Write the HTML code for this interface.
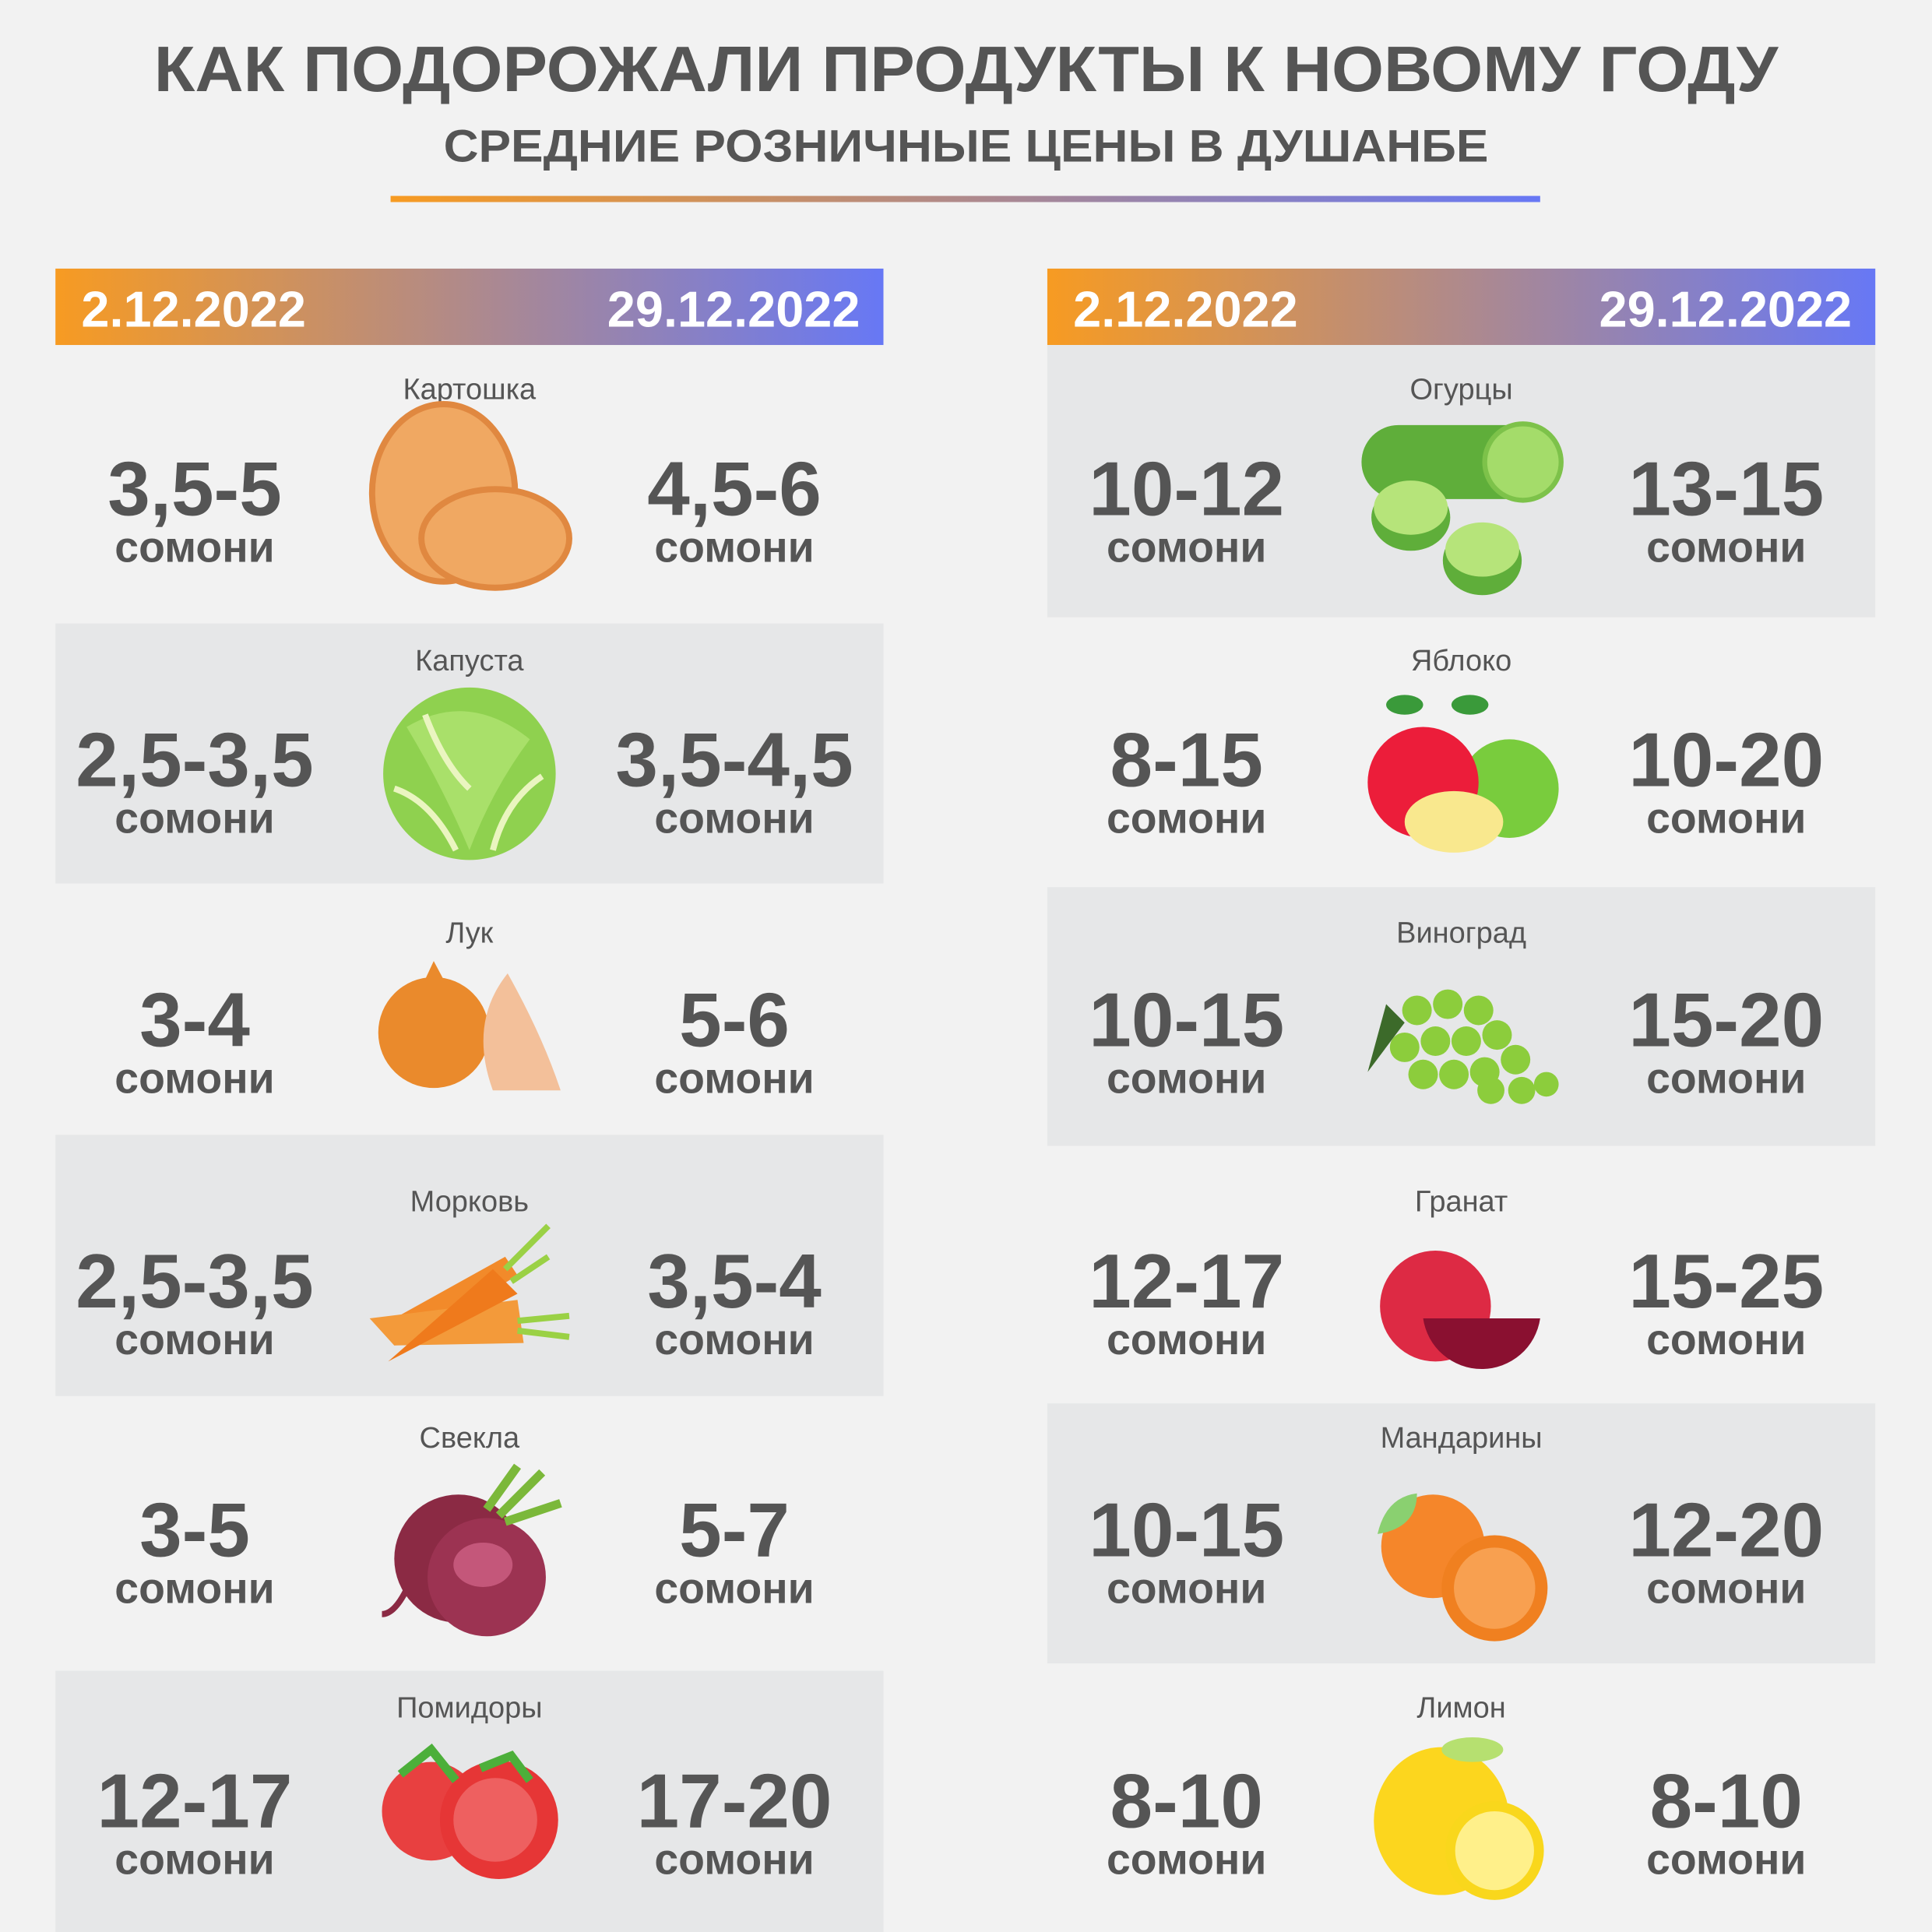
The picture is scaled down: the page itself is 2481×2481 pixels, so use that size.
<!DOCTYPE html>
<html><head><meta charset="utf-8"><style>
html,body{margin:0;padding:0;background:#f2f2f2}
svg{display:block}
text{font-family:"Liberation Sans",sans-serif;fill:#555}
.n{font-size:24px;text-anchor:middle;fill:#555}
.p{font-size:62px;font-weight:bold;text-anchor:middle;fill:#555}
.s{font-size:35px;font-weight:bold;text-anchor:middle;fill:#555}
.d{font-size:41px;font-weight:bold;fill:#fff}
</style></head><body>
<svg width="2481" height="2481" viewBox="0 0 1568 1568" xmlns="http://www.w3.org/2000/svg">
<defs>
<linearGradient id="g" x1="0" x2="1" y1="0" y2="0"><stop offset="0" stop-color="#f79b22"/><stop offset="1" stop-color="#6778f5"/></linearGradient>
</defs>
<rect width="1568" height="1568" fill="#f2f2f2"/>
<text x="784" y="74" text-anchor="middle" font-size="52" font-weight="bold" textLength="1318" lengthAdjust="spacingAndGlyphs">КАК ПОДОРОЖАЛИ ПРОДУКТЫ К НОВОМУ ГОДУ</text>
<text x="784" y="131" text-anchor="middle" font-size="37" font-weight="bold" textLength="848" lengthAdjust="spacingAndGlyphs">СРЕДНИЕ РОЗНИЧНЫЕ ЦЕНЫ В ДУШАНБЕ</text>
<rect x="317" y="159" width="933" height="5" fill="url(#g)"/>
<rect x="45" y="218" width="672" height="62" fill="url(#g)"/>
<rect x="850" y="218" width="672" height="62" fill="url(#g)"/>
<text class="d" x="66" y="265">2.12.2022</text>
<text class="d" x="698" y="265" text-anchor="end">29.12.2022</text>
<text class="d" x="871" y="265">2.12.2022</text>
<text class="d" x="1503" y="265" text-anchor="end">29.12.2022</text>
<g fill="#e6e7e8">
<rect x="45" y="506" width="672" height="211"/>
<rect x="45" y="921" width="672" height="212"/>
<rect x="45" y="1356" width="672" height="212"/>
<rect x="850" y="280" width="672" height="221"/>
<rect x="850" y="720" width="672" height="210"/>
<rect x="850" y="1139" width="672" height="211"/>
</g>
<g>
<text class="n" x="381" y="324">Картошка</text>
<text class="p" x="158" y="418">3,5-5</text><text class="s" x="158" y="456">сомони</text>
<text class="p" x="596" y="418">4,5-6</text><text class="s" x="596" y="456">сомони</text>
<text class="n" x="381" y="544">Капуста</text>
<text class="p" x="158" y="638">2,5-3,5</text><text class="s" x="158" y="676">сомони</text>
<text class="p" x="596" y="638">3,5-4,5</text><text class="s" x="596" y="676">сомони</text>
<text class="n" x="381" y="765">Лук</text>
<text class="p" x="158" y="849">3-4</text><text class="s" x="158" y="887">сомони</text>
<text class="p" x="596" y="849">5-6</text><text class="s" x="596" y="887">сомони</text>
<text class="n" x="381" y="983">Морковь</text>
<text class="p" x="158" y="1061">2,5-3,5</text><text class="s" x="158" y="1099">сомони</text>
<text class="p" x="596" y="1061">3,5-4</text><text class="s" x="596" y="1099">сомони</text>
<text class="n" x="381" y="1175">Свекла</text>
<text class="p" x="158" y="1263">3-5</text><text class="s" x="158" y="1301">сомони</text>
<text class="p" x="596" y="1263">5-7</text><text class="s" x="596" y="1301">сомони</text>
<text class="n" x="381" y="1394">Помидоры</text>
<text class="p" x="158" y="1483">12-17</text><text class="s" x="158" y="1521">сомони</text>
<text class="p" x="596" y="1483">17-20</text><text class="s" x="596" y="1521">сомони</text>
</g>
<g>
<text class="n" x="1186" y="324">Огурцы</text>
<text class="p" x="963" y="418">10-12</text><text class="s" x="963" y="456">сомони</text>
<text class="p" x="1401" y="418">13-15</text><text class="s" x="1401" y="456">сомони</text>
<text class="n" x="1186" y="544">Яблоко</text>
<text class="p" x="963" y="638">8-15</text><text class="s" x="963" y="676">сомони</text>
<text class="p" x="1401" y="638">10-20</text><text class="s" x="1401" y="676">сомони</text>
<text class="n" x="1186" y="765">Виноград</text>
<text class="p" x="963" y="849">10-15</text><text class="s" x="963" y="887">сомони</text>
<text class="p" x="1401" y="849">15-20</text><text class="s" x="1401" y="887">сомони</text>
<text class="n" x="1186" y="983">Гранат</text>
<text class="p" x="963" y="1061">12-17</text><text class="s" x="963" y="1099">сомони</text>
<text class="p" x="1401" y="1061">15-25</text><text class="s" x="1401" y="1099">сомони</text>
<text class="n" x="1186" y="1175">Мандарины</text>
<text class="p" x="963" y="1263">10-15</text><text class="s" x="963" y="1301">сомони</text>
<text class="p" x="1401" y="1263">12-20</text><text class="s" x="1401" y="1301">сомони</text>
<text class="n" x="1186" y="1394">Лимон</text>
<text class="p" x="963" y="1483">8-10</text><text class="s" x="963" y="1521">сомони</text>
<text class="p" x="1401" y="1483">8-10</text><text class="s" x="1401" y="1521">сомони</text>
</g>
<ellipse cx="360" cy="400" rx="58" ry="72" fill="#f0a862" stroke="#e08840" stroke-width="5"/>
<ellipse cx="402" cy="437" rx="60" ry="40" fill="#f0a862" stroke="#e08840" stroke-width="5"/>
<circle cx="381" cy="628" r="70" fill="#8fd14f"/>
<path d="M330 590 Q380 560 430 600 Q400 640 381 690 Q360 640 330 590Z" fill="#a9e06a"/>
<path d="M320 640 Q350 650 370 690 M440 630 Q410 650 400 690 M345 580 Q360 620 381 640" stroke="#eaf5c0" stroke-width="5" fill="none"/>
<circle cx="352" cy="838" r="45" fill="#ea8a2c"/>
<path d="M352 780 L345 795 L360 795Z" fill="#ea8a2c"/>
<path d="M412 790 Q440 840 455 885 L400 885 Q380 830 412 790Z" fill="#f3c09a"/>
<path d="M320 1070 L410 1020 L420 1035 L330 1090Z" fill="#f28a2a"/>
<path d="M300 1070 L420 1055 L425 1090 L320 1092Z" fill="#f39a3a"/>
<path d="M315 1105 L400 1030 L420 1050 Z" fill="#ef7a1c"/>
<path d="M410 1030 L445 995 M415 1040 L445 1020 M420 1072 L462 1068 M420 1080 L462 1085" stroke="#9ad145" stroke-width="5"/>
<circle cx="372" cy="1265" r="52" fill="#8b2a44"/>
<circle cx="395" cy="1280" r="48" fill="#9c3352"/>
<ellipse cx="392" cy="1270" rx="24" ry="18" fill="#c4577a"/>
<path d="M395 1225 L420 1190 M405 1230 L440 1195 M410 1235 L455 1220" stroke="#7bb83a" stroke-width="7"/>
<path d="M330 1290 Q320 1310 310 1310" stroke="#8b2a44" stroke-width="5" fill="none"/>
<circle cx="350" cy="1470" r="40" fill="#e84040"/>
<circle cx="405" cy="1477" r="48" fill="#e63636"/>
<circle cx="402" cy="1477" r="34" fill="#ee6060"/>
<path d="M325 1440 L350 1420 L370 1445 M390 1435 L415 1425 L430 1445" stroke="#4caf3a" stroke-width="7" fill="none"/>
<rect x="1105" y="345" width="155" height="60" rx="30" fill="#5fae3a"/>
<circle cx="1236" cy="375" r="31" fill="#a4dc6a" stroke="#7dc24a" stroke-width="4"/>
<ellipse cx="1145" cy="420" rx="32" ry="27" fill="#5fae3a"/><ellipse cx="1145" cy="412" rx="30" ry="22" fill="#b6e47a"/>
<ellipse cx="1203" cy="455" rx="32" ry="28" fill="#5fae3a"/><ellipse cx="1203" cy="446" rx="30" ry="22" fill="#b6e47a"/>
<circle cx="1225" cy="640" r="40" fill="#79cc3d"/>
<circle cx="1155" cy="635" r="45" fill="#ec1d3a"/>
<ellipse cx="1180" cy="667" rx="40" ry="25" fill="#f9e88e"/>
<ellipse cx="1140" cy="572" rx="15" ry="8" fill="#3a9a3a"/><ellipse cx="1193" cy="572" rx="15" ry="8" fill="#3a9a3a"/>
<g fill="#8ccd3c">
<circle cx="1150" cy="820" r="12"/><circle cx="1175" cy="815" r="12"/><circle cx="1200" cy="820" r="12"/>
<circle cx="1140" cy="850" r="12"/><circle cx="1165" cy="845" r="12"/><circle cx="1190" cy="845" r="12"/><circle cx="1215" cy="840" r="12"/>
<circle cx="1155" cy="872" r="12"/><circle cx="1180" cy="872" r="12"/><circle cx="1205" cy="870" r="12"/><circle cx="1230" cy="860" r="12"/>
<circle cx="1210" cy="885" r="11"/><circle cx="1235" cy="885" r="11"/><circle cx="1255" cy="880" r="10"/>
</g>
<path d="M1110 870 L1125 815 L1140 830Z" fill="#3c6a2a"/>
<circle cx="1165" cy="1060" r="45" fill="#dd2a44"/>
<path d="M1155 1070 A48 48 0 0 0 1250 1070Z" fill="#8a1030"/>
<circle cx="1163" cy="1255" r="42" fill="#f5862a"/>
<circle cx="1213" cy="1289" r="43" fill="#f08020"/><circle cx="1213" cy="1289" r="33" fill="#f8a050"/>
<path d="M1118 1245 Q1125 1215 1150 1212 Q1150 1240 1118 1245Z" fill="#8ad070"/>
<ellipse cx="1170" cy="1478" rx="55" ry="60" fill="#fcd61e"/>
<circle cx="1213" cy="1502" r="40" fill="#f9d71c"/><circle cx="1213" cy="1502" r="32" fill="#fff08a"/>
<ellipse cx="1195" cy="1420" rx="25" ry="10" fill="#b6e070"/>
</svg>
</body></html>
